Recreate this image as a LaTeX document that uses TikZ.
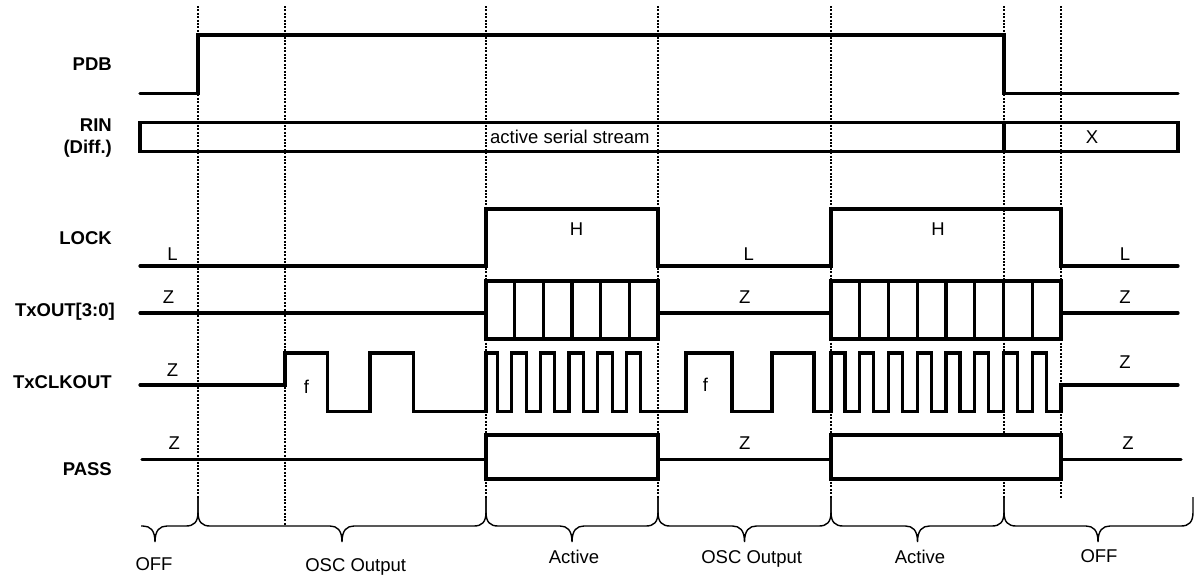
\documentclass[tikz,border=0pt]{standalone}
\usepackage{fontspec}
\setmainfont{Liberation Sans}
\begin{document}
\begin{tikzpicture}[x=1pt,y=-1pt,
  sig/.style={line width=3.2pt, line join=miter, line cap=round},
  guide/.style={line width=1.1pt, dash pattern=on 2pt off 1.4pt},
  brc/.style={line width=1.4pt},
  signame/.style={font=\fontsize{18.5}{20}\selectfont\bfseries, anchor=base east, inner sep=0pt},
  lvl/.style={font=\fontsize{18.5}{20}\selectfont, anchor=base, inner sep=0pt},
  phase/.style={font=\fontsize{18.5}{20}\selectfont, anchor=base, inner sep=0pt}]

\fill[white] (0,0) rectangle (1198,579);
\useasboundingbox (0,0) rectangle (1198,579);

% guide lines
\foreach \x/\yb in {198/498, 285/526, 486/498, 658/498, 831/498, 1004/498, 1061/498}
  \draw[guide] (\x,6) -- (\x,\yb);

% signal names
\node[signame] (nPDB) at (112,70) {PDB};
\node[signame] (nRIN) at (112,131.7) {RIN};
\node[signame] (nDiff) at (112,153) {(Diff.)};
\node[signame] (nLOCK) at (112,244) {LOCK};
\node[signame] (nTXO) at (115,316) {TxOUT[3:0]};
\node[signame] (nCLK) at (112,388.5) {TxCLKOUT};
\node[signame] (nPASS) at (112,475) {PASS};

% PDB
\draw[sig] (140,93.7) -- (198,93.7) -- (198,35) -- (1004,35) -- (1004,93.7) -- (1178,93.7);

% RIN
\draw[sig] (140,122.3) rectangle (1178,151.7);
\draw[sig] (1004,122.3) -- (1004,151.7);
\node[lvl, anchor=base west] (tRIN) at (490,143) {active serial stream};
\node[lvl] (tX) at (1092,143.3) {X};

% LOCK
\draw[sig] (140,266) -- (486,266) -- (486,209) -- (658,209) -- (658,266) -- (831,266) -- (831,209) -- (1061,209) -- (1061,266) -- (1178,266);
\node[lvl] (tL1) at (172.4,260) {L};
\node[lvl] (tH1) at (576.6,235) {H};
\node[lvl] (tL2) at (748.7,260) {L};
\node[lvl] (tH2) at (938,235) {H};
\node[lvl] (tL3) at (1125,260) {L};

% TxOUT
\draw[sig] (140,313) -- (486,313);
\draw[sig] (486,281) rectangle (658,339);
\foreach \k in {1,...,5} \draw[sig] ({486+28.667*\k},281) -- ({486+28.667*\k},339);
\draw[sig] (658,313) -- (831,313);
\draw[sig] (831,281) rectangle (1061,339);
\foreach \k in {1,...,7} \draw[sig] ({831+28.75*\k},281) -- ({831+28.75*\k},339);
\draw[sig] (1061,313) -- (1178,313);
\node[lvl] (tZ1) at (168.6,303.3) {Z};
\node[lvl] (tZ2) at (744.8,303.3) {Z};
\node[lvl] (tZ3) at (1125,303.3) {Z};

% TxCLKOUT
\draw[sig] (140,385) -- (285,385) -- (285,353) -- (327.6,353) -- (327.6,411.7) -- (370,411.7)
  -- (370,353) -- (413.5,353) -- (413.5,411.7) -- (486,411.7) -- (486,353) -- (497.5,353) -- (497.5,411.7)
  \foreach \k in {1,...,5} { -- ({483+28.67*\k},411.7) -- ({483+28.67*\k},353) -- ({497.5+28.67*\k},353) -- ({497.5+28.67*\k},411.7) }
  -- (686,411.7) -- (686,353) -- (732,353) -- (732,411.7) -- (772,411.7) -- (772,353) -- (814,353) -- (814,411.7) -- (831,411.7)
  \foreach \k in {0,...,7} { -- ({831+28.75*\k},411.7) -- ({831+28.75*\k},353) -- ({845+28.75*\k},353) -- ({845+28.75*\k},411.7) }
  -- (1061,411.7) -- (1061,385) -- (1178,385);
\node[lvl] (tZ4) at (172.4,376) {Z};
\node[lvl] (tf1) at (306.5,393.4) {f};
\node[lvl] (tf2) at (705.4,391) {f};
\node[lvl] (tZ5) at (1125,368.3) {Z};

% PASS
\draw[sig] (142,459.3) -- (486,459.3);
\filldraw[sig, fill=white] (486,435) rectangle (658,479);
\draw[sig] (658,459.3) -- (831,459.3);
\filldraw[sig, fill=white] (831,435) rectangle (1061,479);
\draw[sig] (1061,459.3) -- (1181,459.3);
\node[lvl] (tZ6) at (174.3,449) {Z};
\node[lvl] (tZ7) at (744.8,449) {Z};
\node[lvl] (tZ8) at (1128,449) {Z};

% braces
\draw[brc] (141,526) -- (143,526) .. controls (150,526) and (155,530) .. (155,542)
  .. controls (155,530) and (160,526) .. (167,526) -- (186,526)
  .. controls (194,526) and (198,522) .. (198,512) -- (198,497);
\foreach \a/\m/\b in {198/342/486, 486/572/658, 658/744.5/831, 831/917.5/1004, 1004/1098/1193}
  \draw[brc] (\a,497) -- (\a,512) .. controls (\a,522) and (\a+4,526) .. (\a+12,526)
    -- (\m-12,526) .. controls (\m-5,526) and (\m,530) .. (\m,542)
    .. controls (\m,530) and (\m+5,526) .. (\m+12,526)
    -- (\b-12,526) .. controls (\b-4,526) and (\b,522) .. (\b,512) -- (\b,497);

\node[phase] (pOFF1) at (154,570) {OFF};
\node[phase] (pOSC1) at (355.7,571.5) {OSC Output};
\node[phase] (pACT1) at (574,563) {Active};
\node[phase] (pOSC2) at (751.7,563.3) {OSC Output};
\node[phase] (pACT2) at (920,563) {Active};
\node[phase] (pOFF2) at (1099,562.6) {OFF};
\end{tikzpicture}
\end{document}
